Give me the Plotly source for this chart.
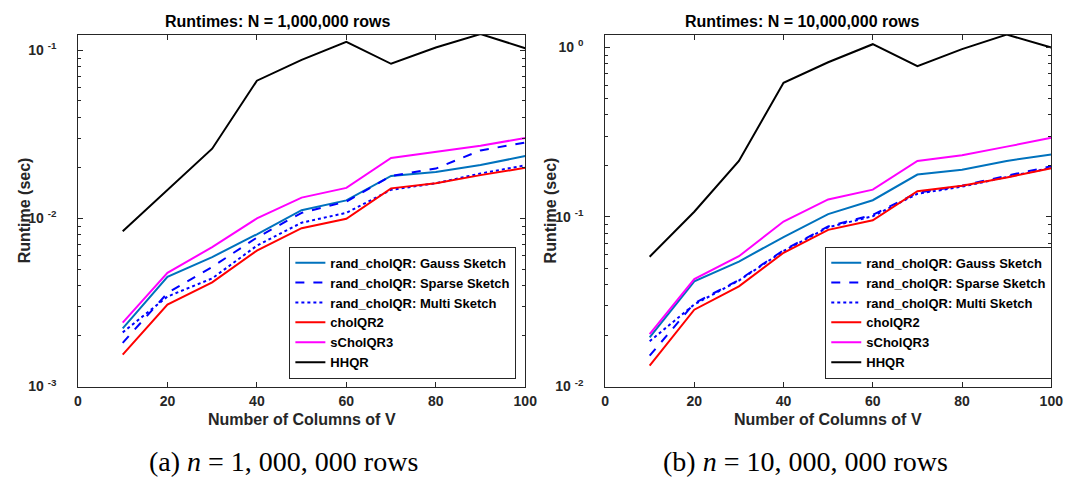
import plotly.graph_objects as go

cols = [10, 20, 30, 40, 50, 60, 70, 80, 90, 100]

series_names = ["rand_cholQR: Gauss Sketch", "rand_cholQR: Sparse Sketch",
                "rand_cholQR: Multi Sketch", "cholQR2", "sCholQR3", "HHQR"]

# N = 1,000,000 rows
gauss_1m = [0.00222, 0.0045, 0.00589, 0.00805, 0.0112, 0.0128, 0.0179, 0.0189, 0.0208, 0.0235]
sparse_1m = [0.00182, 0.0036, 0.00515, 0.0077, 0.0108, 0.0126, 0.0179, 0.0198, 0.0254, 0.0283]
multi_1m = [0.0021, 0.00343, 0.0044, 0.00689, 0.00944, 0.0108, 0.0148, 0.0162, 0.0185, 0.0207]
cholqr2_1m = [0.00155, 0.00307, 0.00417, 0.00644, 0.00875, 0.00995, 0.0151, 0.0162, 0.0181, 0.0200]
scholqr3_1m = [0.0024, 0.00475, 0.00675, 0.0100, 0.0133, 0.0152, 0.0229, 0.0248, 0.0271, 0.0301]
hhqr_1m = [0.0084, 0.0148, 0.026, 0.066, 0.0877, 0.1125, 0.0832, 0.104, 0.125, 0.103]

# N = 10,000,000 rows
gauss_10m = [0.0195, 0.0417, 0.0546, 0.0762, 0.104, 0.1256, 0.178, 0.190, 0.214, 0.234]
sparse_10m = [0.0152, 0.031, 0.0425, 0.0637, 0.0879, 0.1028, 0.139, 0.153, 0.175, 0.199]
multi_10m = [0.0185, 0.0305, 0.0422, 0.0630, 0.0870, 0.1010, 0.137, 0.151, 0.172, 0.195]
cholqr2_10m = [0.0133, 0.0284, 0.039, 0.0615, 0.084, 0.0957, 0.142, 0.153, 0.171, 0.194]
scholqr3_10m = [0.0204, 0.043, 0.0587, 0.094, 0.127, 0.145, 0.214, 0.231, 0.260, 0.293]
hhqr_10m = [0.0583, 0.1074, 0.214, 0.618, 0.818, 1.045, 0.776, 0.977, 1.19, 1.0]

titles = ["Runtimes: N = 1,000,000 rows", "Runtimes: N = 10,000,000 rows"]
x_title = "Number of Columns of V"
y_title = "Runtime (sec)"
x_ticks = [0, 20, 40, 60, 80, 100]
y_tick_vals_1m = [0.001, 0.01, 0.1]
y_tick_text_1m = ["10 <sup>-3</sup>&nbsp;&nbsp;", "10 <sup>-2</sup>&nbsp;&nbsp;", "10 <sup>-1</sup>&nbsp;&nbsp;"]
y_tick_vals_10m = [0.01, 0.1, 1]
y_tick_text_10m = ["10 <sup>-2</sup>&nbsp;&nbsp;", "10 <sup>-1</sup>&nbsp;&nbsp;", "10 <sup>0</sup>&nbsp;&nbsp;"]
minor_1m = [m * 10.0 ** e for e in (-3, -2, -1) for m in range(2, 10)]
minor_10m = [m * 10.0 ** e for e in (-2, -1, 0) for m in range(2, 10)]
captions = ["(a) <i>n</i> = 1, 000, 000 rows", "(b) <i>n</i> = 10, 000, 000 rows"]

styles = [
    dict(color="#0072BD", width=2, dash="solid"),
    dict(color="#0000FF", width=2, dash="dash"),
    dict(color="#0000FF", width=2, dash="dot"),
    dict(color="#FF0000", width=2, dash="solid"),
    dict(color="#FF00FF", width=2, dash="solid"),
    dict(color="#000000", width=2, dash="solid"),
]

data_1m = [gauss_1m, sparse_1m, multi_1m, cholqr2_1m, scholqr3_1m, hhqr_1m]
data_10m = [gauss_10m, sparse_10m, multi_10m, cholqr2_10m, scholqr3_10m, hhqr_10m]

W, H = 1074, 478
fig = go.Figure()

for name, ys, st in zip(series_names, data_1m, styles):
    fig.add_trace(go.Scatter(x=cols, y=ys, mode="lines", name=name, line=st,
                             xaxis="x", yaxis="y", legend="legend"))
for name, ys, st in zip(series_names, data_10m, styles):
    fig.add_trace(go.Scatter(x=cols, y=ys, mode="lines", name=name, line=st,
                             xaxis="x2", yaxis="y2", legend="legend2"))

SANS = "Liberation Sans, Arial, Helvetica, sans-serif"
axis_color = "#262626"
tick_font = dict(family=SANS, size=14, color=axis_color, weight="bold")
label_font = dict(family=SANS, size=16, color=axis_color, weight="bold")
title_font = dict(family=SANS, size=16, color="#000000", weight="bold")


def xaxis_cfg(domain, anchor):
    return dict(domain=domain, anchor=anchor, range=[0, 100], tickvals=x_ticks,
                ticks="inside", ticklen=5, tickcolor=axis_color, showline=True,
                linecolor=axis_color, linewidth=1, mirror="allticks", showgrid=False,
                zeroline=False, tickfont=tick_font, ticklabelstandoff=2)


def yaxis_cfg(domain, anchor, rng, vals, text, minor_vals):
    return dict(domain=domain, anchor=anchor, type="log", range=rng, tickvals=vals,
                ticktext=text, ticks="inside", ticklen=5, tickcolor=axis_color,
                showline=True, linecolor=axis_color, linewidth=1, mirror="allticks",
                showgrid=False, zeroline=False, tickfont=tick_font, ticklabelstandoff=10,
                minor=dict(ticks="inside", ticklen=3, tickcolor=axis_color, showgrid=False,
                           tickmode="array", tickvals=minor_vals))


legend_font = dict(family=SANS, size=13, color="#000000", weight="bold")
ydom = [1 - 385 / H, 1 - 27 / H]
fig.update_layout(
    width=W, height=H,
    margin=dict(l=0, r=0, t=0, b=0),
    paper_bgcolor="white", plot_bgcolor="white",
    xaxis=xaxis_cfg([67 / W, 521 / W], "y"),
    yaxis=yaxis_cfg(ydom, "x", [-3, -0.906], y_tick_vals_1m, y_tick_text_1m, minor_1m),
    xaxis2=xaxis_cfg([602 / W, 1055 / W], "y2"),
    yaxis2=yaxis_cfg(ydom, "x2", [-2, 0.076], y_tick_vals_10m, y_tick_text_10m, minor_10m),
    legend=dict(x=512 / W, y=1 - 377 / H, xanchor="right", yanchor="bottom",
                bgcolor="white", bordercolor=axis_color, borderwidth=1,
                font=legend_font, tracegroupgap=0, itemwidth=30),
    legend2=dict(x=1056 / W, y=1 - 377 / H, xanchor="right", yanchor="bottom",
                 bgcolor="white", bordercolor=axis_color, borderwidth=1,
                 font=legend_font, tracegroupgap=0, itemwidth=30),
    showlegend=True,
)

# subplot titles
for t, cx in zip(titles, [270, 802]):
    fig.add_annotation(text=t, x=cx / W, y=1 - 14 / H, xref="paper", yref="paper",
                       showarrow=False, font=title_font, xanchor="center", yanchor="middle")

# axis titles
for cx in [294, 828]:
    fig.add_annotation(text=x_title, x=cx / W, y=1 - 418 / H, xref="paper", yref="paper",
                       showarrow=False, font=label_font, xanchor="center", yanchor="middle")
for cx in [13, 547]:
    fig.add_annotation(text=y_title, x=cx / W, y=1 - 206 / H, xref="paper", yref="paper",
                       showarrow=False, font=label_font, textangle=-90,
                       xanchor="center", yanchor="middle")

# captions
for cap, cx in zip(captions, [276, 806]):
    fig.add_annotation(text=cap, x=cx / W, y=1 - 461 / H, xref="paper", yref="paper",
                       showarrow=False, xanchor="center", yanchor="middle",
                       font=dict(family="Liberation Serif, Times New Roman, serif", size=28,
                                 color="#000000"))

fig.write_html("out.html")
